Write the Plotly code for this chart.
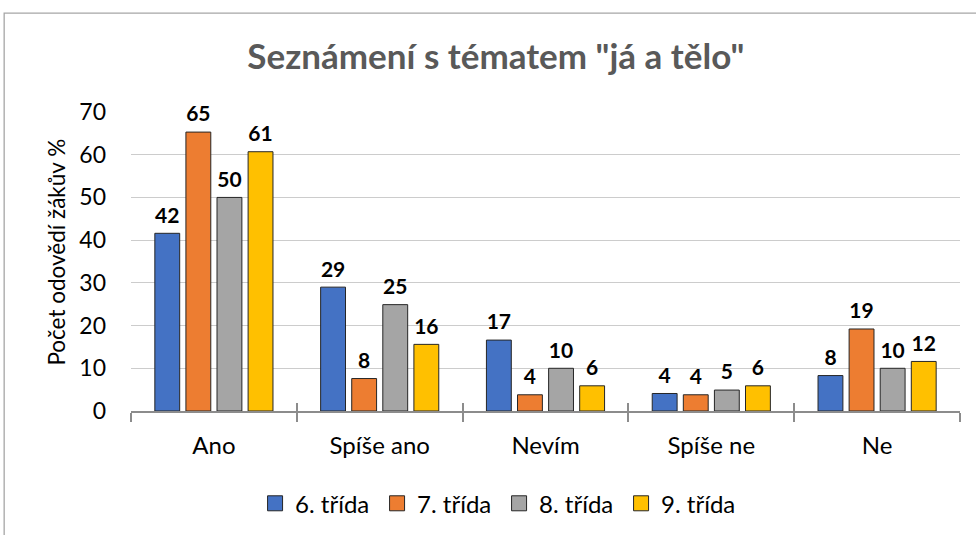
import plotly.graph_objects as go

categories = ["Ano", "Spíše ano", "Nevím", "Spíše ne", "Ne"]
series_names = ["6. třída", "7. třída", "8. třída", "9. třída"]
vals_6 = [41.6, 29.0, 16.6, 4.1, 8.3]
vals_7 = [65.3, 7.6, 3.8, 3.8, 19.2]
vals_8 = [50.0, 24.9, 10.0, 4.9, 10.0]
vals_9 = [60.7, 15.6, 5.9, 5.9, 11.6]
colors = ["#4472C4", "#ED7D31", "#A5A5A5", "#FFC000"]
y_ticks = [0, 10, 20, 30, 40, 50, 60, 70]

FONT = "Lato"
GAP = 0.25
series = list(zip(series_names, [vals_6, vals_7, vals_8, vals_9], colors))

fig = go.Figure()
# bars
for name, vals, col in series:
    fig.add_trace(go.Bar(
        x=categories, y=vals, name=name, showlegend=False,
        marker=dict(color=col, line=dict(color="#262626", width=1)),
        hoverinfo="skip",
    ))
# value labels (grouped scatter aligned with the bars)
for name, vals, col in series:
    fig.add_trace(go.Scatter(
        x=categories, y=vals, mode="markers+text", showlegend=False,
        marker=dict(size=7, opacity=0),
        texttemplate="<b>%{y:.0f}</b>", textposition="top center",
        textfont=dict(family=FONT, size=21, color="#000000"),
        cliponaxis=False, hoverinfo="skip",
    ))
# legend proxies (kept on the overlay axis so they do not join the grouping)
for name, vals, col in series:
    fig.add_trace(go.Scatter(
        x=[None], y=[None], mode="markers", name=name, xaxis="x2",
        marker=dict(symbol="square", size=15, color=col,
                    line=dict(color="#262626", width=1)),
        hoverinfo="skip",
    ))

# invisible trace carrying the overlay axis (upper half of crossing ticks)
fig.add_trace(go.Scatter(x=categories, y=[0] * len(categories), xaxis="x2",
                         mode="none", showlegend=False, hoverinfo="skip"))

fig.update_layout(
    template="none",
    width=976, height=535,
    margin=dict(l=131, r=16, t=112, b=124, autoexpand=False),
    paper_bgcolor="white", plot_bgcolor="white",
    barmode="group", bargap=GAP, bargroupgap=0.2,
    scattermode="group", scattergap=GAP,
    font=dict(family=FONT, color="#000000"),
    title=dict(text="<b>Seznámení s tématem \"já a tělo\"</b>",
               font=dict(family=FONT, size=35, color="#595959"),
               x=0.508, xanchor="center", y=0.893, yanchor="middle"),
    xaxis=dict(type="category", categoryarray=categories, range=[-0.5, 4.5],
               automargin=False,
               showline=True, linecolor="#8c8c8c", linewidth=1.5,
               ticks="outside", ticklen=9, tickcolor="#8c8c8c", tickwidth=1.5,
               tickson="boundaries", showgrid=False, zeroline=False,
               ticklabelstandoff=12,
               tickfont=dict(family=FONT, size=24, color="#000000")),
    xaxis2=dict(type="category", categoryarray=categories, range=[-0.5, 4.5],
                overlaying="x", anchor="y", side="bottom", automargin=False,
                ticks="inside", ticklen=8, tickcolor="#8c8c8c", tickwidth=1.5,
                tickson="boundaries", showticklabels=False, showgrid=False,
                showline=False, zeroline=False),
    yaxis=dict(range=[0, 70], tickvals=y_ticks, showgrid=True, automargin=False,
               gridcolor="#cccccc", gridwidth=1.3, zeroline=False,
               showline=False, ticks="", ticklabelstandoff=24,
               tickfont=dict(family=FONT, size=23, color="#000000")),
    legend=dict(orientation="h", x=0.444, xanchor="center", y=-0.31,
                yanchor="middle", font=dict(family=FONT, size=24, color="#000000"),
                itemwidth=30, traceorder="normal", entrywidth=77,
                bgcolor="rgba(0,0,0,0)"),
    annotations=[dict(text="Počet odovědí žákův %", xref="paper", yref="paper",
                      x=-0.0893, y=0.533, xanchor="center", yanchor="middle",
                      textangle=-90, showarrow=False,
                      font=dict(family=FONT, size=22.5, color="#000000"))],
    shapes=[dict(type="rect", xref="paper", yref="paper",
                 x0=-0.153, x1=1.2, y0=-1.0, y1=1.331,
                 line=dict(color="#a6a6a6", width=1.3), fillcolor="rgba(0,0,0,0)",
                 layer="below")],
)

fig.write_html("out.html", config={"displayModeBar": False},
               post_script="document.body.style.margin='0';")
